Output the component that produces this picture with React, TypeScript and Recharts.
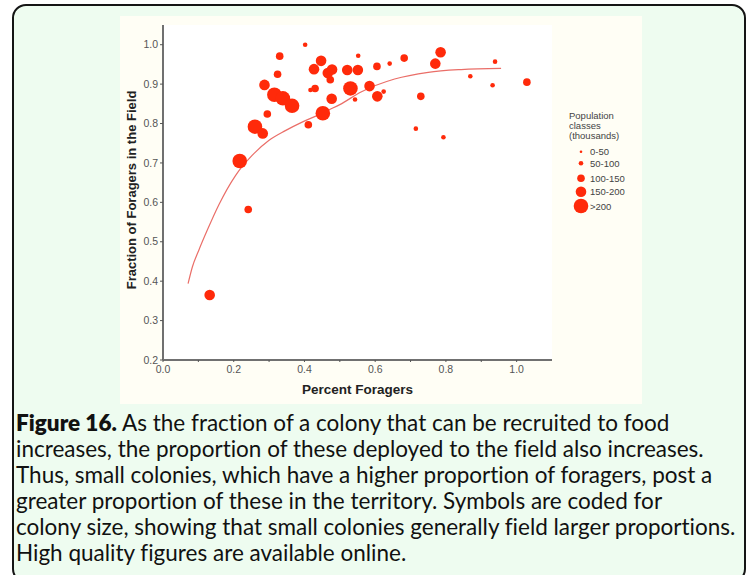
import React from 'react';
import { ScatterChart, Scatter, XAxis, YAxis, CartesianGrid } from 'recharts';

// Percent foragers (x) and fraction of foragers in the field (y), with population class index
const foragerPct = [0.402, 0.330, 0.324, 0.287, 0.315, 0.339, 0.365, 0.295, 0.260, 0.282, 0.217, 0.241, 0.411, 0.417, 0.430, 0.427, 0.447, 0.466, 0.478, 0.473, 0.477, 0.452, 0.132, 0.521, 0.551, 0.552, 0.530, 0.543, 0.584, 0.605, 0.606, 0.624, 0.641, 0.682, 0.729, 0.715, 0.793, 0.770, 0.785, 0.869, 0.932, 0.939, 1.029];
const fieldFrac = [1.000, 0.971, 0.925, 0.898, 0.873, 0.864, 0.845, 0.824, 0.792, 0.775, 0.705, 0.582, 0.797, 0.885, 0.889, 0.938, 0.959, 0.928, 0.937, 0.911, 0.863, 0.826, 0.365, 0.936, 0.936, 0.972, 0.889, 0.861, 0.895, 0.945, 0.869, 0.881, 0.952, 0.966, 0.869, 0.787, 0.765, 0.952, 0.981, 0.920, 0.897, 0.957, 0.905];
const popClass = [1, 2, 2, 3, 4, 4, 4, 2, 4, 3, 4, 2, 2, 1, 2, 3, 3, 3, 3, 2, 3, 4, 3, 3, 3, 1, 4, 1, 3, 2, 3, 1, 1, 2, 2, 1, 1, 3, 3, 1, 1, 1, 2];

// Fitted trend curve
const fitX = [0.071, 0.083, 0.101, 0.125, 0.158, 0.205, 0.252, 0.299, 0.346, 0.392, 0.44, 0.47, 0.5, 0.56, 0.655, 0.75, 0.843, 0.956];
const fitY = [0.394, 0.436, 0.478, 0.529, 0.594, 0.668, 0.719, 0.757, 0.782, 0.803, 0.822, 0.835, 0.848, 0.88, 0.913, 0.93, 0.937, 0.94];

const classLabels = ['0-50', '50-100', '100-150', '150-200', '>200'];
const xTicks = [0, 0.1, 0.2, 0.3, 0.4, 0.5, 0.6, 0.7, 0.8, 0.9, 1.0];
const yTicks = [0.2, 0.3, 0.4, 0.5, 0.6, 0.7, 0.8, 0.9, 1.0];

const captionLines = [
  'As the fraction of a colony that can be recruited to food',
  'increases, the proportion of these deployed to the field also increases.',
  'Thus, small colonies, which have a higher proportion of foragers, post a',
  'greater proportion of these in the territory. Symbols are coded for',
  'colony size, showing that small colonies generally field larger proportions.',
  'High quality figures are available online.',
];

const DOT = '#FF2A0A';
const classRadius = [1.3, 2.3, 3.8, 5.3, 7.3];

const points = foragerPct.map((x, i) => ({ x, y: fieldFrac[i], c: popClass[i] }));
const fitPoints = fitX.map((x, i) => ({ x, y: fitY[i] }));

const tickStyle = { fontSize: 10.5, fill: '#555', fontFamily: 'Liberation Sans, Arial, sans-serif' };

const DotShape = (props: any) => {
  const { cx, cy, payload } = props;
  if (cx == null || cy == null) return <g />;
  return <circle cx={cx} cy={cy} r={classRadius[payload.c]} fill={DOT} />;
};

const LegendBox = () => {
  const rowY = [46.7, 58.3, 73.3, 86.7, 101];
  return (
    <svg width={90} height={112} style={{ position: 'absolute', left: 565, top: 105, overflow: 'visible' }}>
      <g fontFamily="Liberation Sans, Arial, sans-serif" fontSize={9.5} fill="#444">
        <text x={4} y={13.5}>Population</text>
        <text x={4} y={23.5}>classes</text>
        <text x={4} y={33.5}>(thousands)</text>
        {classLabels.map((lab, i) => (
          <g key={lab}>
            <circle cx={16} cy={rowY[i]} r={classRadius[i]} fill={DOT} />
            <text x={25} y={rowY[i] + 3.5}>{lab}</text>
          </g>
        ))}
      </g>
    </svg>
  );
};

const YTitle = () => {
  const cx = 11;
  const cy = 174;
  return (
    <text
      x={cx}
      y={cy}
      transform={`rotate(-90, ${cx}, ${cy})`}
      textAnchor="middle"
      dominantBaseline="central"
      fontFamily="Liberation Sans, Arial, sans-serif"
      fontWeight="bold"
      fontSize={13}
      fill="#222"
    >
      Fraction of Foragers in the Field
    </text>
  );
};

const XTitle = (props: any) => {
  const vb = props.viewBox || {};
  const cx = (vb.x ?? 43) + (vb.width ?? 389) / 2;
  return (
    <text
      x={cx}
      y={373}
      textAnchor="middle"
      dominantBaseline="central"
      fontFamily="Liberation Sans, Arial, sans-serif"
      fontWeight="bold"
      fontSize={13.5}
      fill="#222"
    >
      Percent Foragers
    </text>
  );
};

export default function App() {
  return (
    <div style={{ position: 'absolute', left: 0, top: 0, width: 751, height: 575, overflow: 'hidden', background: '#ffffff' }}>
      <div
        style={{
          position: 'absolute',
          left: 12,
          top: 4,
          width: 730,
          height: 575,
          border: '2px solid #151515',
          borderRadius: 14,
          background: '#EEFCF0',
        }}
      />
      <div style={{ position: 'absolute', left: 120, top: 16, width: 522, height: 388, background: '#FFFEF5' }}>
        <ScatterChart width={522} height={388} margin={{ top: 9, right: 90, bottom: 0, left: 0 }}>
          <CartesianGrid horizontal={false} vertical={false} fill="#ffffff" />
          <XAxis
            xAxisId="top"
            orientation="top"
            type="number"
            dataKey="x"
            domain={[0, 1.1]}
            ticks={xTicks}
            allowDataOverflow
            height={0}
            mirror
            tick={false}
            tickSize={2}
            axisLine={{ stroke: '#9a9a9a', strokeWidth: 1 }}
            tickLine={{ stroke: '#666' }}
          />
          <YAxis
            yAxisId="right"
            orientation="right"
            type="number"
            dataKey="y"
            domain={[0.2, 1.05]}
            ticks={yTicks}
            allowDataOverflow
            width={0}
            mirror
            tick={false}
            tickSize={2}
            axisLine={{ stroke: '#9a9a9a', strokeWidth: 1 }}
            tickLine={{ stroke: '#666' }}
          />
          <XAxis
            type="number"
            dataKey="x"
            domain={[0, 1.1]}
            ticks={xTicks}
            allowDataOverflow
            height={44}
            tickSize={2}
            tickMargin={4}
            tick={tickStyle}
            tickFormatter={(v: number) => (Math.round(v * 10) % 2 === 0 ? v.toFixed(1) : '')}
            axisLine={{ stroke: '#707070', strokeWidth: 2 }}
            tickLine={{ stroke: '#555' }}
            label={{ content: XTitle }}
          />
          <YAxis
            type="number"
            dataKey="y"
            domain={[0.2, 1.05]}
            ticks={yTicks}
            allowDataOverflow
            width={43}
            tickSize={3}
            tickMargin={2}
            tick={tickStyle}
            tickFormatter={(v: number) => v.toFixed(1)}
            axisLine={{ stroke: '#707070', strokeWidth: 2 }}
            tickLine={{ stroke: '#555' }}
            label={{ content: YTitle }}
          />
          <Scatter
            name="fit"
            data={fitPoints}
            line={{ stroke: '#EA6E68', strokeWidth: 1.2 }}
            lineJointType="monotoneX"
            shape={() => <g />}
            isAnimationActive={false}
            legendType="none"
          />
          <Scatter name="colonies" data={points} shape={DotShape} isAnimationActive={false} />
        </ScatterChart>
      </div>
      <LegendBox />
      <div
        style={{
          position: 'absolute',
          left: 16,
          top: 410,
          fontFamily: 'Lato, "Noto Sans", sans-serif',
          fontSize: 22.5,
          lineHeight: '26px',
          color: '#111',
          whiteSpace: 'nowrap',
          fontVariantLigatures: 'none',
        }}
      >
        {captionLines.map((line, i) => (
          <div key={i}>
            {i === 0 ? <b style={{ fontWeight: 800 }}>Figure 16. </b> : null}
            {line}
          </div>
        ))}
      </div>
    </div>
  );
}
